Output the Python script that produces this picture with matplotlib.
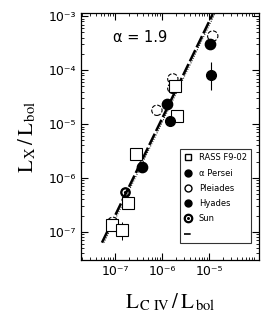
import numpy as np
import matplotlib
matplotlib.use("Agg")
import matplotlib.pyplot as plt
from matplotlib.lines import Line2D
from matplotlib.ticker import FuncFormatter

plt.rcParams['mathtext.fontset'] = 'stix'
plt.rcParams['font.family'] = ['DejaVu Sans']

# Data
rass_x = [8.7e-8, 1.4e-7, 1.9e-7, 2.8e-7, 2.1e-6, 1.9e-6]
rass_y = [1.35e-7, 1.1e-7, 3.4e-7, 2.8e-6, 1.4e-5, 5.0e-5]
rass_xerr = [0.0, 2.5e-8, 0.0, 0.0, 0.0, 0.0]
rass_yerr = [0.0, 4.0e-8, 8.0e-8, 6.0e-7, 0.0, 0.0]
aper_x = [3.7e-7, 1.3e-6, 1.05e-5]
aper_y = [1.6e-6, 2.4e-5, 3.0e-4]
plei_x = [9.0e-8, 1.7e-6, 1.7e-6, 7.8e-7, 1.2e-5]
plei_y = [1.5e-7, 6.9e-5, 4.6e-5, 1.8e-5, 4.3e-4]
hyad_x = [1.5e-6, 1.1e-5]
hyad_y = [1.15e-5, 8.0e-5]
hyad_yerr_lo = [0.0, 3.7e-5]
hyad_yerr_hi = [0.0, 6.0e-5]
hyad_xerr = [0.0, 2.0e-6]
sun_x = [1.6e-7]
sun_y = [5.5e-7]
fit_x = [5.3e-8, 1.2e-5]
fit_y = [6.3e-8, 1.1e-3]

SUP = str.maketrans('-0123456789', '⁻⁰¹²³⁴⁵⁶⁷⁸⁹')

fig = plt.figure(figsize=(2.7, 3.25), dpi=100)
ax = fig.add_axes([0.30, 0.20, 0.659, 0.76])
ax.set_xscale('log')
ax.set_yscale('log')
ax.set_xlim(1.9e-8, 1.15e-4)
ax.set_ylim(3.0e-8, 1.15e-3)

ax.plot(fit_x, fit_y, color='black', lw=1.8, ls=(0, (5, 1.2)), zorder=2)
ax.plot([v * 1.1 for v in fit_x], fit_y, color='black', lw=0.7, ls=(0, (1, 1.5)), zorder=2)

ax.errorbar(rass_x, rass_y, xerr=rass_xerr, yerr=rass_yerr, fmt='s', ms=8,
            mfc='white', mec='black', mew=0.8, ecolor='black', elinewidth=0.7,
            capsize=0, zorder=3)
ax.scatter(aper_x, aper_y, marker='o', s=55, facecolor='black', edgecolor='black', zorder=4)
ax.scatter(plei_x, plei_y, marker='o', s=55, facecolor='white', edgecolor='black',
           lw=0.8, ls='--', zorder=3)
ax.errorbar(hyad_x, hyad_y, xerr=hyad_xerr, yerr=[hyad_yerr_lo, hyad_yerr_hi], fmt='o', ms=7,
            color='black', ecolor='black', elinewidth=0.8, capsize=0, zorder=4)
ax.scatter(sun_x, sun_y, marker='$\\odot$', s=45, color='black', zorder=4)

ax.text(9.0e-8, 3.4e-4, 'α = 1.9', fontsize=10.5, family='DejaVu Sans')

handles = [
    Line2D([], [], marker='s', ls='none', mfc='white', mec='black', ms=5),
    Line2D([], [], marker='o', ls='none', mfc='black', mec='black', ms=5),
    Line2D([], [], marker='o', ls='none', mfc='white', mec='black', ms=5),
    Line2D([], [], marker='o', ls='none', mfc='black', mec='black', ms=5),
    Line2D([], [], marker='$\\odot$', ls='none', color='black', ms=6),
    Line2D([], [], color='black', lw=1.2, ls=(0, (4, 1))),
]
labels = ['RASS F9-02', 'α Persei', 'Pleiades', 'Hyades', 'Sun', '']
leg = ax.legend(handles, labels, loc='lower right', bbox_to_anchor=(0.955, 0.07),
                fontsize=6, frameon=True, fancybox=False, edgecolor='black',
                handlelength=1.0, handletextpad=0.8, labelspacing=0.75,
                borderpad=0.5, borderaxespad=0.0)
leg.get_frame().set_linewidth(0.8)


def log_label(v, pos):
    return '10' + str(int(round(np.log10(v)))).translate(SUP)


fmt = FuncFormatter(log_label)
ax.xaxis.set_major_formatter(fmt)
ax.yaxis.set_major_formatter(fmt)
ax.tick_params(which='both', direction='in', top=True, right=True, labelsize=9)
ax.tick_params(which='major', length=5, width=0.8)
ax.tick_params(which='minor', length=2.5, width=0.6)
ax.set_xticks([1e-7, 1e-6, 1e-5])
ax.set_yticks([1e-7, 1e-6, 1e-5, 1e-4, 1e-3])
for s in ax.spines.values():
    s.set_linewidth(0.9)

ax.set_ylabel(r'$\mathrm{L}_{\,\mathrm{X}}\,/\,\mathrm{L}_{\,\mathrm{bol}}$', fontsize=15, labelpad=8)
ax.set_xlabel(r'$\mathrm{L}_{\,\mathrm{C\ IV}}\,/\,\mathrm{L}_{\,\mathrm{bol}}$', fontsize=15, labelpad=10)

fig.savefig('out.png', dpi=100)
